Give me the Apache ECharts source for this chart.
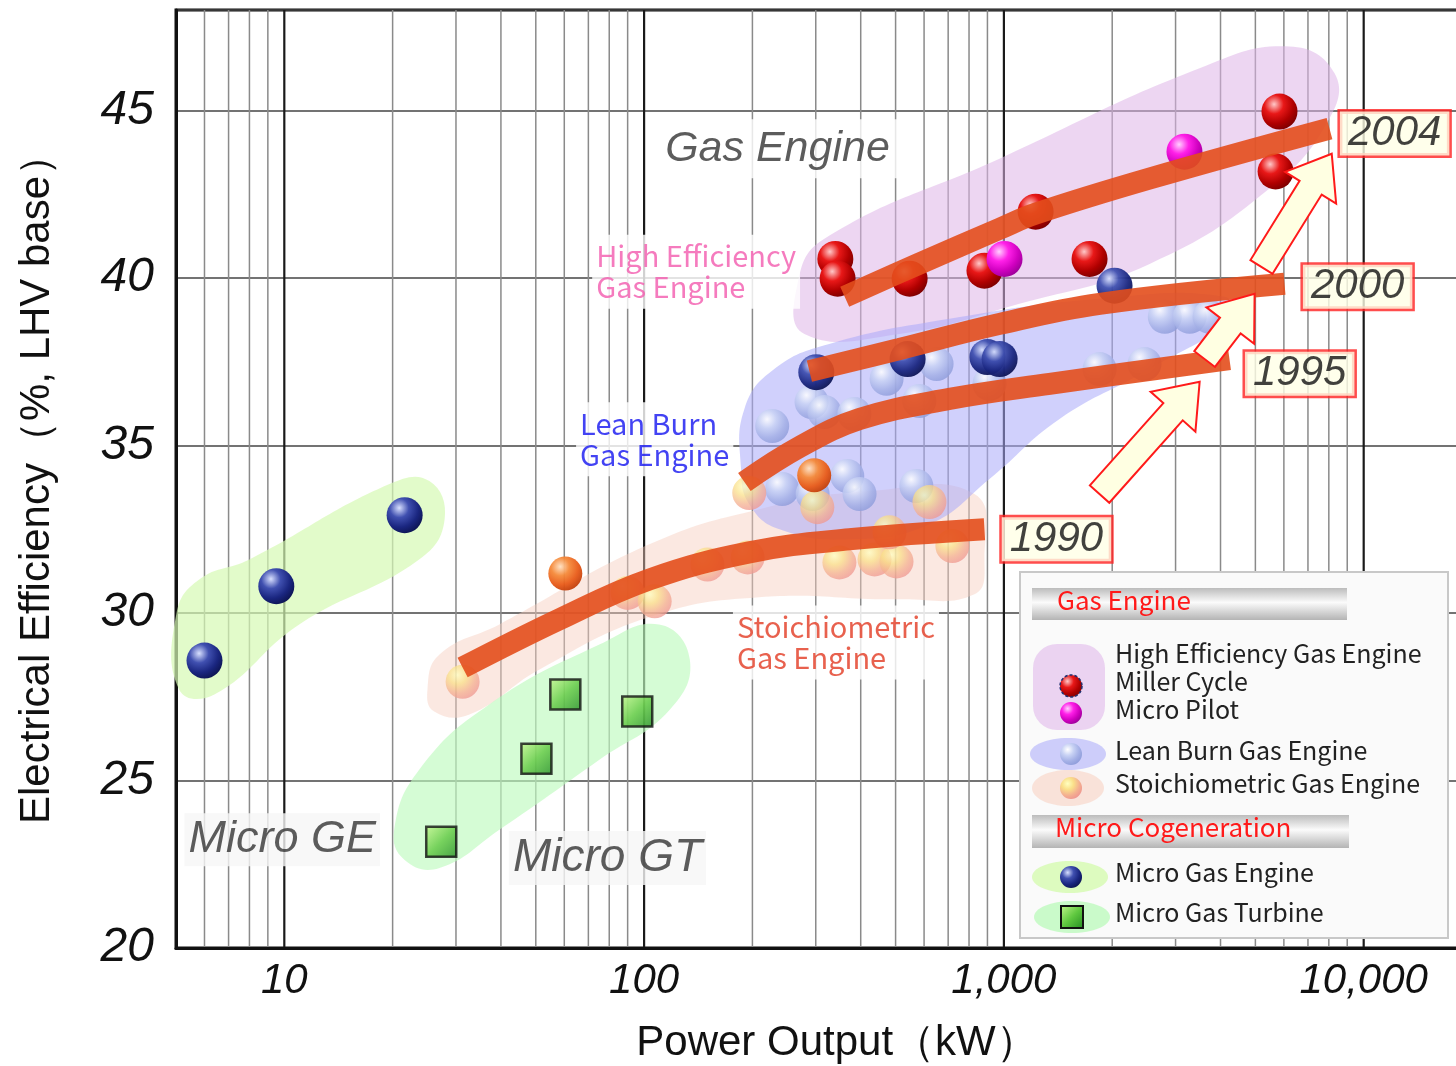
<!DOCTYPE html>
<html><head><meta charset="utf-8">
<script src="https://cdn.jsdelivr.net/npm/echarts@6/dist/echarts.min.js"></script>
<style>html,body{margin:0;padding:0;background:#fff}#c{width:1456px;height:1066px}</style>
</head><body><div id="c"></div>
<script>
// ---------- data (kW, electrical efficiency %) ----------
const yTickValues = [20, 25, 30, 35, 40, 45];
const xTickLabels = ['10', '100', '1,000', '10,000'];
const xMajorLines = [10, 100, 1000, 10000];
const xMinorLines = [6,7,8,9,20,30,40,50,60,70,80,90,200,300,400,500,600,700,800,900,2000,3000,4000,5000,6000,7000,8000,9000];

const microGasEngine = [[6.0,28.58],[9.5,30.8],[21.6,32.92]];
const microGasTurbine = [[27.3,23.17],[50.2,25.65],[60.4,27.57],[95.7,27.06]];
const millerCycle = [[340,40.57],[345,39.98],[547,39.98],[883,40.22],[1225,41.98],[1730,40.57],[5834,44.97],[5690,43.18]];
const microPilot = [[1004,40.57],[3176,43.77]];
const leanBurn = [[227,35.58],[292,36.30],[317,36.0],[384,35.94],[472,36.99],[650,37.43],[582,36.33],[242,33.70],[294,33.55],[367,34.09],[397,33.55],[571,33.79],[1845,37.28],[2460,37.43],[2800,38.84],[3283,38.84],[3730,38.84],[912,36.84]];
const leanBurnDark = [[301,37.19],[540,37.58],[900,37.64],[973,37.58],[2030,39.77]];
const stoichiometric = [[31.3,27.95],[90,30.6],[107,30.35],[150,31.45],[196,33.58],[303,33.16],[621,33.31],[194,31.66],[349,31.51],[437,31.6],[503,31.54],[719,32.0],[481,32.41]];
const stoichiometricDark = [[60.4,31.18],[297,34.11]];

const trend1990 = [[31.3,28.37],[58.1,29.81],[103.4,31.0],[196,31.81],[372,32.2],[883,32.5]];
const trend1995 = [[190,33.91],[270,34.95],[397,35.79],[706,36.39],[1340,36.84],[4236,37.58]];
const trend2000 = [[288,37.22],[513,37.88],[973,38.63],[1845,39.23],[6025,39.83]];
const trend2004 = [[361,39.44],[582,40.43],[973,41.47],[1225,41.92],[2542,42.97],[8035,44.46]];

const yearLabels = ['2004','2000','1995','1990'];
const yearLabelPos = [[12190,44.31],[9620,39.74],[6640,37.14],[1400,32.2]];
// arrows: [fromKW, fromEff, toKW, toEff]
const yearArrows = [[1845,33.55,3500,36.9],[3614,37.58,4975,39.53],[5200,40.33,8150,43.71]];

// regions (outline vertices, kW / %)
const regionHighEff = [[279,38.33],[267,39.83],[317,41.17],[972,43.56],[3498,46.26],[6223,46.91],[8299,46.11],[8035,44.76],[5472,42.67],[2541,40.42],[1104,39.23],[513,38.33]];
const regionLeanBurn = [[186,34.29],[190,36.09],[230,37.28],[327,38.03],[706,38.78],[1844,39.38],[4105,39.44],[4236,38.78],[2541,37.28],[1428,35.79],[912,34.0],[621,32.65],[372,32.2],[238,32.5],[196,33.25]];
const regionStoich = [[25.0,27.72],[27.0,28.76],[39.6,29.66],[103.4,32.05],[209,33.10],[423,33.64],[828,33.55],[883,31.6],[828,30.56],[513,30.41],[209,30.47],[103,29.87],[51.2,28.31],[32.7,26.97],[26.1,27.06]];
const regionMicroGE = [[5.01,29.96],[5.8,31.0],[8.0,31.6],[19.6,33.85],[25.3,33.94],[27.9,32.8],[23.7,31.6],[11.0,29.66],[6.39,27.57],[5.1,27.72]];
const regionMicroGT = [[20.2,23.53],[23.7,25.32],[37.1,27.27],[75.1,29.06],[110,29.66],[134,28.61],[118,27.12],[75.1,25.62],[39.6,23.53],[27.0,22.39],[21.6,22.63]];

// text annotations
const annoGasEngine = [[234.8,43.86]];
const annoHighEff = [[71.5,40.19]];
const annoLean = [[64.5,35.19]];
const annoStoich = [[176,29.12]];
const annoMicroGE = [[9.87,23.23]];
const annoMicroGT = [[79.1,22.69]];

// ---------- styles ----------
const R = (stops) => ({type:'radial', x:0.35, y:0.3, r:0.8, colorStops: stops.map((c,i)=>({offset: i/(stops.length-1), color:c}))});
const gRed = R(['#ffc8c8','#e81818','#b00000','#700000']);
const gMag = R(['#ffd0ff','#ff20e8','#d000c0','#900090']);
const gDark = R(['#d8e0ff','#4050b0','#1a2680','#0a1048']);
const gLight = R(['#ffffff','#c8d2f4','#a4b0e6','#8a98d8']);
const gStoich = R(['#ffffc0','#fae08a','#f4b090','#ee9090']);
const gOrange = R(['#ffe0c0','#f58a3a','#e85a18','#b83808']);
const gGreen = {type:'linear', x:0, y:0, x2:1, y2:1, colorStops:[{offset:0,color:'#c8f890'},{offset:0.5,color:'#60c840'},{offset:1,color:'#208a20'}]};

const SANS = "'Liberation Sans', Arial, sans-serif";
const NARROW = "'Liberation Sans Narrow', 'Liberation Sans', Arial, sans-serif";
const JP = "'Noto Sans CJK JP', 'Noto Sans', sans-serif";

function regionSeries(verts, fill, z){
  return {type:'custom', silent:true, z:z, data: verts,
    renderItem: (params, api) => {
      if (params.dataIndex !== 0) return null;
      return {type:'polygon', shape:{points: verts.map(v => api.coord(v)), smooth: 0.45}, style:{fill: fill}};
    }};
}
function gridLineSeries(values, color, width){
  return {type:'custom', silent:true, z:0, data: values.map(v=>[v, 20]),
    renderItem: (params, api) => {
      const v = api.value(0);
      const p1 = api.coord([v, 20]), p2 = api.coord([v, 48]);
      return {type:'line', shape:{x1:p1[0], y1:p1[1], x2:p2[0], y2:p2[1]}, style:{stroke: color, lineWidth: width}};
    }};
}
function sphereSeries(name, data, color, opacity, size, z){
  return {type:'scatter', name:name, data:data, symbol:'circle', symbolSize:size, z:z,
    itemStyle:{color:color, opacity:opacity}};
}
function trendSeries(data){
  return {type:'line', data:data, smooth:0.4, showSymbol:false, symbol:'none', z:6, silent:true,
    lineStyle:{color:'#e34e1c', width:22, opacity:0.9, cap:'butt'}};
}
function textSeries(data, text, style, pos){
  return {type:'scatter', data:data, symbolSize:1, z:8, silent:true, itemStyle:{color:'rgba(0,0,0,0)'},
    label: Object.assign({show:true, position: pos || 'inside', distance:0, formatter: text}, style)};
}

const option = {
  animation:false,
  backgroundColor:'#fff',
  grid:{left:176, top:10, bottom:118, right:-16, containLabel:false, outerBoundsMode:'none',
    show:true, borderColor:'#111', borderWidth:3, backgroundColor:'#fff'},
  xAxis:{type:'log', logBase:10, min:5, max:20000,
    name:'Power Output（kW）', nameLocation:'middle', nameGap:74,
    nameTextStyle:{fontSize:42, color:'#111', fontFamily:NARROW, padding:[0,0,0,26]},
    axisLine:{show:true, lineStyle:{color:'#111', width:3}},
    axisTick:{show:false}, splitLine:{show:false}, minorSplitLine:{show:false},
    axisLabel:{margin:12, fontSize:42, fontStyle:'italic', color:'#111', fontFamily:NARROW,
      formatter:(v)=>{const l=Math.log10(v); const r=Math.round(l); if (Math.abs(l-r)<1e-6 && r>=1 && r<=4) return xTickLabels[r-1]; return '';}}
  },
  yAxis:{type:'value', min:20, max:48, interval:5,
    name:'Electrical Efficiency（%, LHV base）', nameLocation:'middle', nameGap:118, nameRotate:90,
    nameTextStyle:{fontSize:42, color:'#111', fontFamily:NARROW},
    axisLine:{show:true, lineStyle:{color:'#111', width:3}},
    axisTick:{show:false},
    splitLine:{show:true, lineStyle:{color:'#444', width:1.6}},
    axisLabel:{margin:22, fontSize:48, fontStyle:'italic', color:'#111', fontFamily:SANS,
      formatter:(v)=> yTickValues.includes(v) ? String(v) : ''}
  },
  series:[
    gridLineSeries(xMinorLines, '#8a8a8a', 1.5),
    gridLineSeries(xMajorLines, '#1a1a1a', 2.2),
    regionSeries(regionHighEff, 'rgba(222,180,232,0.55)', 1),
    regionSeries(regionLeanBurn, 'rgba(170,170,250,0.55)', 2),
    regionSeries(regionStoich, 'rgba(246,205,188,0.45)', 1),
    regionSeries(regionMicroGE, 'rgba(214,250,180,0.7)', 1),
    regionSeries(regionMicroGT, 'rgba(190,250,190,0.65)', 1),
    sphereSeries('Lean Burn Gas Engine', leanBurn, gLight, 0.85, 34, 3),
    sphereSeries('Stoichiometric Gas Engine', stoichiometric, gStoich, 0.75, 34, 3),
    sphereSeries('Stoichiometric (dark)', stoichiometricDark, gOrange, 0.95, 34, 4),
    sphereSeries('Lean Burn (dark)', leanBurnDark, gDark, 0.95, 36, 4),
    sphereSeries('Micro Gas Engine', microGasEngine, gDark, 1, 36, 4),
    sphereSeries('Miller Cycle', millerCycle, gRed, 1, 36, 4),
    sphereSeries('Micro Pilot', microPilot, gMag, 1, 36, 4),
    {type:'scatter', name:'Micro Gas Turbine', data:microGasTurbine, symbol:'rect', symbolSize:30, z:4,
      itemStyle:{color:gGreen, borderColor:'#111', borderWidth:2.5}},
    trendSeries(trend1990), trendSeries(trend1995), trendSeries(trend2000), trendSeries(trend2004),
    {type:'custom', silent:true, z:7, data: yearArrows,
      renderItem:(params, api)=>{
        const p1 = api.coord([api.value(0), api.value(1)]);
        const p2 = api.coord([api.value(2), api.value(3)]);
        const dx=p2[0]-p1[0], dy=p2[1]-p1[1], L=Math.hypot(dx,dy), ux=dx/L, uy=dy/L, nx=-uy, ny=ux;
        const sw=13, hw=30, hl=40;
        const b=[p2[0]-ux*hl, p2[1]-uy*hl];
        const pts=[[p1[0]+nx*sw,p1[1]+ny*sw],[b[0]+nx*sw,b[1]+ny*sw],[b[0]+nx*hw,b[1]+ny*hw],p2,
                   [b[0]-nx*hw,b[1]-ny*hw],[b[0]-nx*sw,b[1]-ny*sw],[p1[0]-nx*sw,p1[1]-ny*sw]];
        return {type:'polygon', shape:{points:pts}, style:{fill:'#ffffe2', stroke:'#ff1a1a', lineWidth:2}};
      }},
    {type:'scatter', data: yearLabelPos.map((p,i)=>[p[0],p[1],yearLabels[i]]), symbolSize:1, z:9, silent:true,
      itemStyle:{color:'rgba(0,0,0,0)'},
      label:{show:true, position:'inside', formatter:(p)=>p.value[2], fontSize:42, fontStyle:'italic', color:'#111',
        fontFamily:SANS, backgroundColor:'#ffffe6', borderColor:'#ff2020', borderWidth:2.5, padding:[2,8,0,8]}},
    textSeries(annoGasEngine, 'Gas Engine', {fontSize:43, fontStyle:'italic', color:'#333', fontFamily:SANS, backgroundColor:'#fff', padding:[8,10]}),
    textSeries(annoHighEff, 'High Efficiency\nGas Engine', {fontSize:29, lineHeight:31, color:'#f25aae', fontFamily:JP, backgroundColor:'#fff', padding:[6,4], align:'left'}, 'right'),
    textSeries(annoLean, 'Lean Burn\nGas Engine', {fontSize:29, lineHeight:31, color:'#1414f0', fontFamily:JP, backgroundColor:'#fff', padding:[6,4], align:'left'}, 'right'),
    textSeries(annoStoich, 'Stoichiometric\nGas Engine', {fontSize:29, lineHeight:31, color:'#e23a22', fontFamily:JP, backgroundColor:'#fff', padding:[6,4], align:'left'}, 'right'),
    textSeries(annoMicroGE, 'Micro GE', {fontSize:45, fontStyle:'italic', color:'#333', fontFamily:SANS, backgroundColor:'#f6f6f6', padding:[4,4]}),
    textSeries(annoMicroGT, 'Micro GT', {fontSize:46, fontStyle:'italic', color:'#333', fontFamily:SANS, backgroundColor:'#f6f6f6', padding:[4,4]})
  ],
  graphic:[]
};

// ---------- legend panel ----------
const RG = (stops) => new echarts.graphic.RadialGradient(0.35, 0.3, 0.8, stops.map((c,i)=>({offset:i/(stops.length-1), color:c})));
const barGrad = new echarts.graphic.LinearGradient(0,0,0,1,[{offset:0,color:'#bcbcbc'},{offset:0.45,color:'#fbfbfb'},{offset:1,color:'#b4b4b4'}]);
const LFONT = "25px 'Noto Sans CJK JP', 'Noto Sans', sans-serif";
function ltext(y, t){ return {type:'text', left:1115, top:y-17, z:100, style:{text:t, font:LFONT, fill:'#222'}}; }
option.graphic = [
  {type:'rect', z:90, shape:{x:1020, y:572, width:428, height:366}, style:{fill:'#fafafa', stroke:'#c8c8c8', lineWidth:2}},
  {type:'rect', z:91, shape:{x:1032, y:588, width:315, height:32}, style:{fill:barGrad}},
  {type:'text', z:100, left:1057, top:587, style:{text:'Gas Engine', font:"26px 'Noto Sans CJK JP', 'Noto Sans', sans-serif", fill:'#ff1a1a'}},
  {type:'rect', z:91, shape:{x:1033, y:644, width:72, height:86, r:24}, style:{fill:'rgba(225,185,235,0.6)'}},
  {type:'circle', z:95, shape:{cx:1071, cy:686, r:11}, style:{fill:RG(['#ffc8c8','#e81818','#b00000','#700000']), stroke:'#203070', lineWidth:1.5, lineDash:[3,2]}},
  {type:'circle', z:95, shape:{cx:1071, cy:713, r:11}, style:{fill:RG(['#ffd0ff','#ff20e8','#d000c0','#900090'])}},
  ltext(658,'High Efficiency Gas Engine'), ltext(686,'Miller Cycle'), ltext(714,'Micro Pilot'),
  {type:'ellipse', z:91, shape:{cx:1068, cy:754, rx:38, ry:16}, style:{fill:'rgba(175,175,250,0.6)'}},
  {type:'circle', z:95, shape:{cx:1071, cy:754, r:11}, style:{fill:RG(['#ffffff','#c8d2f4','#a4b0e6','#8a98d8'])}},
  ltext(755,'Lean Burn Gas Engine'),
  {type:'ellipse', z:91, shape:{cx:1068, cy:788, rx:36, ry:18}, style:{fill:'rgba(248,210,195,0.6)'}},
  {type:'circle', z:95, shape:{cx:1071, cy:788, r:11}, style:{fill:RG(['#ffffc0','#fae08a','#f4b090','#ee9090'])}},
  ltext(788,'Stoichiometric Gas Engine'),
  {type:'rect', z:91, shape:{x:1032, y:815, width:317, height:33}, style:{fill:barGrad}},
  {type:'text', z:100, left:1055, top:814, style:{text:'Micro Cogeneration', font:"26px 'Noto Sans CJK JP', 'Noto Sans', sans-serif", fill:'#ff1a1a'}},
  {type:'ellipse', z:91, shape:{cx:1070, cy:877, rx:38, ry:16}, style:{fill:'rgba(215,250,180,0.85)'}},
  {type:'circle', z:95, shape:{cx:1071, cy:877, r:11}, style:{fill:RG(['#d8e0ff','#4050b0','#1a2680','#0a1048'])}},
  ltext(877,'Micro Gas Engine'),
  {type:'ellipse', z:91, shape:{cx:1072, cy:917, rx:38, ry:16}, style:{fill:'rgba(190,250,190,0.8)'}},
  {type:'rect', z:95, shape:{x:1061, y:906, width:22, height:22}, style:{fill:new echarts.graphic.LinearGradient(0,0,1,1,[{offset:0,color:'#c8f890'},{offset:0.5,color:'#60c840'},{offset:1,color:'#208a20'}]), stroke:'#111', lineWidth:2}},
  ltext(917,'Micro Gas Turbine')
];

const chart = echarts.init(document.getElementById('c'), null, {renderer:'canvas'});
chart.setOption(option);
</script>
</body></html>
